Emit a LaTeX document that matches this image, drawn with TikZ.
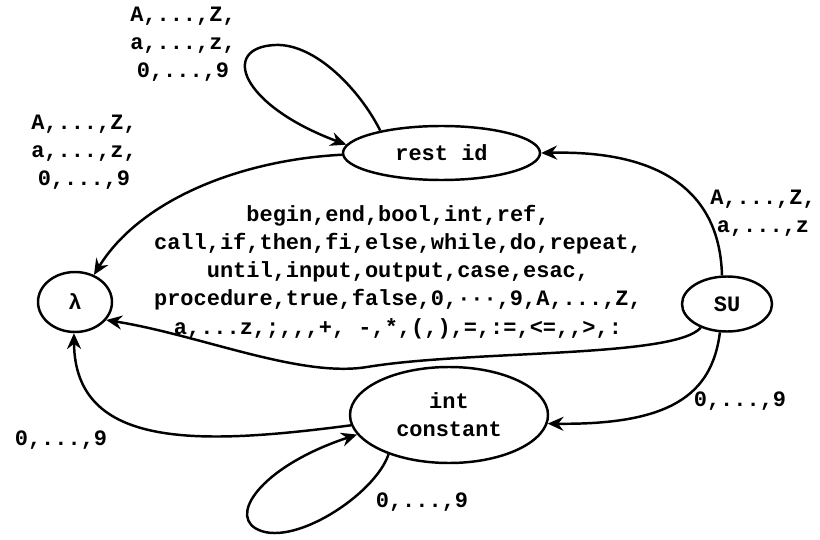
\documentclass[tikz,border=0pt]{standalone}
\usepackage{fontspec}
\setmonofont{Liberation Mono}
\usepackage{tikz}
\usetikzlibrary{shapes.geometric, arrows.meta, positioning}

\begin{document}
\begin{tikzpicture}[
    font=\ttfamily\bfseries\fontsize{12.5}{16}\selectfont,
    state/.style={ellipse, draw, line width=1.4pt, inner sep=0pt, align=center},
    arr/.style={-{Stealth[length=9pt, width=8pt, inset=3pt]}, line width=1.4pt},
    lbl/.style={align=center, inner sep=0pt}
]
\useasboundingbox (0,0) rectangle (16.4,-10.8);

\node[state, minimum width=3.94cm, minimum height=1.08cm] (restid) at (8.83,-3.06) {rest id};
\node[state, minimum width=1.48cm, minimum height=1.2cm] (lam) at (1.5,-6.04) {λ};
\node[state, minimum width=1.8cm, minimum height=1.1cm] (su) at (14.54,-6.08) {SU};
\node[state, minimum width=3.96cm, minimum height=1.92cm] (intc) at (8.98,-8.3) {int\\constant};

% edges
\draw[arr] (restid.160) .. controls (7.2,-1.8) and (6.3,-0.86) .. (5.5,-0.9)
    .. controls (4.4,-0.95) and (4.8,-2.1) .. (restid.175);
\draw[arr] (restid.181) .. controls (4.8,-3.2) and (2.8,-4.0) .. (lam.55);
\draw[arr] (su.100) .. controls (14.4,-3.9) and (13.3,-3.0) .. (restid.east);
\draw[arr] (su.222) .. controls (13.5,-7.16) and (9.4,-7.0) .. (7.34,-7.34)
    .. controls (6.0,-7.56) and (4.0,-6.7) .. (lam.-30);
\draw[arr] (su.256) .. controls (14.24,-7.9) and (13.4,-8.5) .. (intc.-5);
\draw[arr] (intc.186) .. controls (4.0,-8.9) and (1.5,-9.0) .. (lam.268);
\draw[arr] (intc.213) .. controls (7.5,-9.9) and (5.8,-11.0) .. (5.1,-10.56)
    .. controls (4.6,-10.24) and (5.3,-9.3) .. (intc.192);

% labels
\node[lbl] (lrest) at (3.66,-0.88) {A,...,Z,\\a,...,z,\\0,...,9};
\node[lbl] (lrestlam) at (1.68,-3.04) {A,...,Z,\\a,...,z,\\0,...,9};
\node[lbl] (lsurest) at (15.26,-4.26) {A,...,Z,\\a,...,z};
\node[lbl] (lsulam) at (7.96,-5.44) {begin,end,bool,int,ref,\\
    call,if,then,fi,else,while,do,repeat,\\
    until,input,output,case,esac,\\
    procedure,true,false,0,···,9,A,...,Z,\\
    a,...z,;,,,+, -,*,(,),=,:=,<=,,>,:};
\node[lbl] (lsuint) at (14.8,-8.02) {0,...,9};
\node[lbl] (lintlam) at (1.22,-8.8) {0,...,9};
\node[lbl] (lint) at (8.44,-10.04) {0,...,9};
\end{tikzpicture}
\end{document}
